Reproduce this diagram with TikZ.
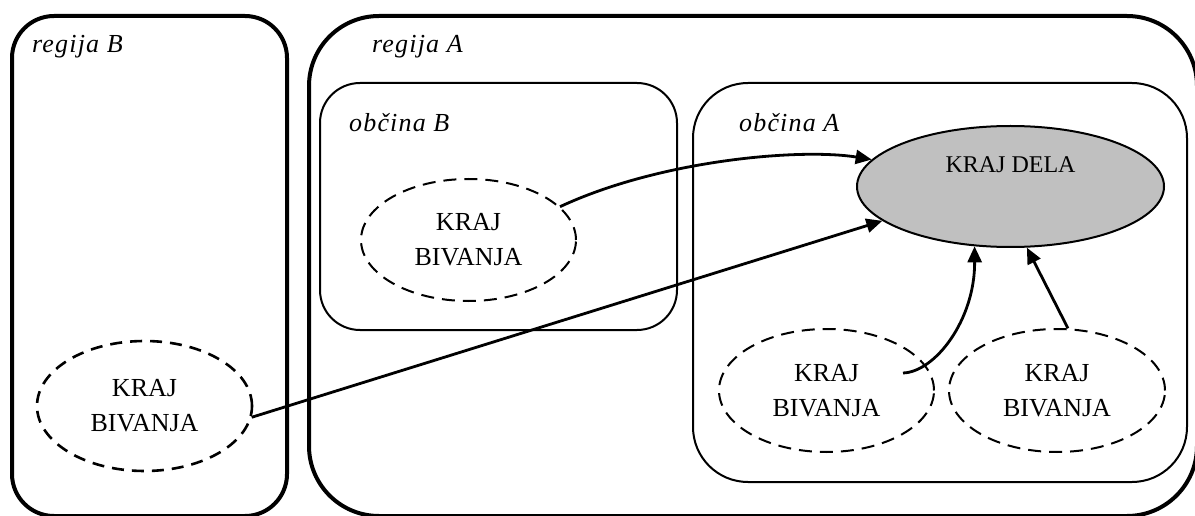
\documentclass[tikz,border=0pt]{standalone}
\usepackage{fontspec}
\setmainfont{Liberation Serif}[ItalicFont={Liberation Serif Italic}]
\newfontfamily\areafont{Liberation Serif Italic}[LetterSpace=4.5]
\usetikzlibrary{shapes.geometric,arrows.meta,calc}

\begin{document}
\begin{tikzpicture}[x=1pt,y=1pt,
  region/.style={line width=4pt, rounded corners=#1},
  municipality/.style={line width=2pt, rounded corners=#1},
  arealabel/.style={anchor=base west, inner sep=0pt,
    font=\areafont\fontsize{26}{30}\selectfont},
  place/.style={ellipse, draw, line width=2pt, dash pattern=on 13pt off 8pt,
    inner sep=0pt, align=center, font=\fontsize{26}{35}\selectfont},
  work/.style={ellipse, draw, line width=2pt, fill=workgray, inner sep=0pt},
  flow/.style={line width=2.8pt, -{Triangle[length=16pt,width=14pt]}}
]
\definecolor{workgray}{RGB}{192,192,192}
\useasboundingbox (0,0) rectangle (1195,515);

\begin{scope}
\clip (0,0) rectangle (1195,515);
% regions
\draw[region=42] (12,-1) rectangle (287,499);
\draw[region=70] (309,-1) rectangle (1197,499);
% municipalities
\draw[municipality=40] (320,185) rectangle (677,432);
\draw[municipality=55] (693,33) rectangle (1187,432);

\node[arealabel] (labRB) at (32,462) {regija B};
\node[arealabel] (labRA) at (372,462) {regija A};
\node[arealabel] (labOB) at (349,383) {občina B};
\node[arealabel] (labOA) at (739,383) {občina A};

% places of work and residence
\node[work, minimum width=307pt, minimum height=121pt] (dela) at (1010.5,328.5) {};
\node[anchor=base, inner sep=0pt, font=\fontsize{24}{30}\selectfont] (delatext)
  at ([yshift=13.5pt]dela.center) {KRAJ DELA};

\node[place, minimum width=215pt, minimum height=122pt] (bB) at (468.5,275) {KRAJ\\BIVANJA};
\node[place, line width=2.6pt, dash pattern=on 12pt off 8pt,
  minimum width=215pt, minimum height=130pt] (lB) at (144.5,109) {KRAJ\\BIVANJA};
\node[place, minimum width=215pt, minimum height=123pt] (bL) at (826.5,124.5) {KRAJ\\BIVANJA};
\node[place, minimum width=216pt, minimum height=123pt] (bR) at (1057,124.5) {KRAJ\\BIVANJA};

\coordinate (s3) at ([shift={(76.5,17.5)}]bL.center);

% commuting flows
\draw[flow] (bB.20) .. controls (660,355) and (800,367) .. (dela.169);
\draw[flow] (lB.-6) -- (dela.195);
\draw[flow] (s3) .. controls (935,143) and (975,195) .. (dela.239);
\draw[flow] (bR.80) -- (dela.285);
\end{scope}
\end{tikzpicture}
\end{document}
